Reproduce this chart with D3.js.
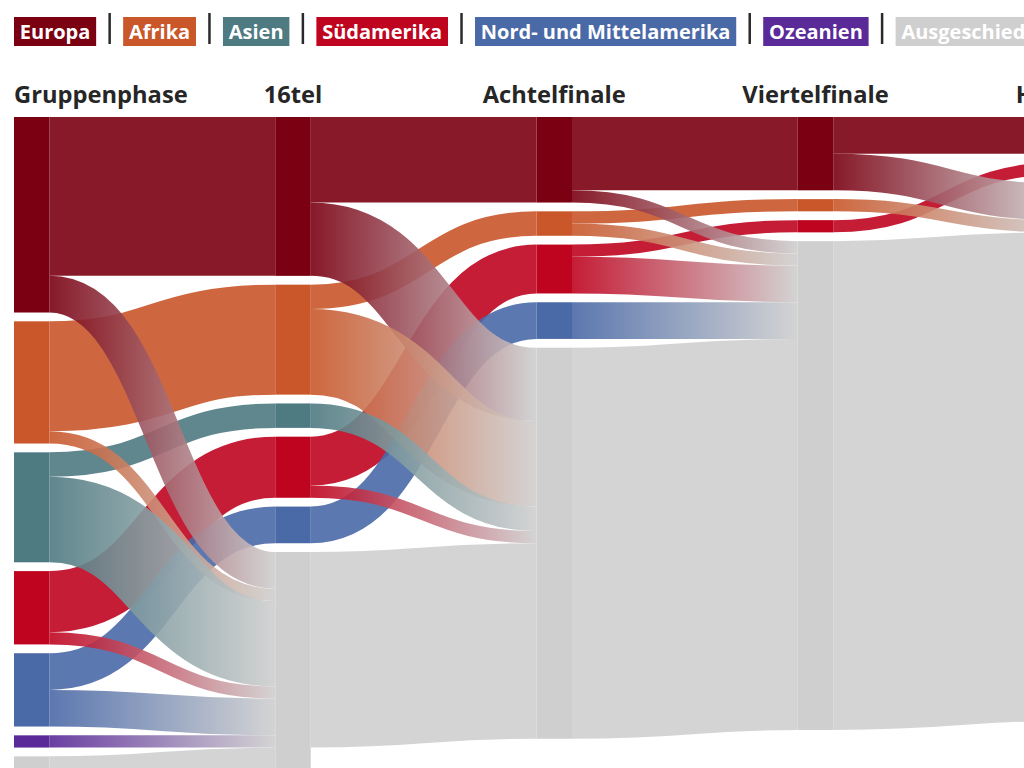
<!DOCTYPE html>
<html lang="de">
<head>
<meta charset="utf-8">
<script src="https://cdn.jsdelivr.net/npm/d3@7"></script>
<style>
  body { margin: 0; background: #fff; overflow: hidden; }
  svg { display: block; font-family: "Open Sans", sans-serif; }
</style>
</head>
<body>
<svg id="chart" width="1024" height="768"></svg>
<script>
const regions = ["Europa", "Afrika", "Asien", "Südamerika", "Nord- und Mittelamerika", "Ozeanien", "Ausgeschieden"]
const nodeColors = ["#7a0012", "#c9572a", "#4e7a81", "#bf0420", "#4a69a7", "#5a2a98", "#cfcfcf"]
const stages = ["Gruppenphase", "16tel", "Achtelfinale", "Viertelfinale", "Halbfinale"]

// teams per region in each stage, last entry = Ausgeschieden
const gruppenphase = [16, 10, 9, 6, 6, 1, 4]
const sechzehntel = [13, 9, 2, 5, 3, 0, 20]
const achtelfinale = [7, 2, 0, 4, 3, 0, 32]
const viertelfinale = [6, 1, 0, 1, 0, 0, 40]
const halbfinale = [3, 0, 0, 1, 0, 0, 44]
// grey flow carried on from one stage to the next
const greyCarry = [4, 16, 32, 40]

const stageCounts = [gruppenphase, sechzehntel, achtelfinale, viertelfinale, halbfinale]
const GREY = regions.length - 1

let svg = d3.select("#chart")

let topY = 117
let nodeW = 35.5
let nodePad = 8.8

const x = d3.scaleLinear()
    .domain([0, stages.length - 1])
    .range([14, 1059])

const h = d3.scaleLinear()
    .domain([0, 1])
    .range([0, 12.22])

// NODES
let nodes = []
let nodeAt = {}
stageCounts.forEach((counts, s) => {
    let y = topY
    counts.forEach((v, r) => {
        if (v <= 0) return
        let n = {s: s, r: r, value: v, x0: x(s), x1: x(s) + nodeW, y0: y, y1: y + h(v), sourceLinks: [], targetLinks: []}
        nodes.push(n)
        nodeAt[s + "-" + r] = n
        y = n.y1 + nodePad
    })
})

// LINKS
let links = []
let addLink = (a, b, v) => {
    if (v <= 0) return
    let l = {source: a, target: b, value: v, width: h(v)}
    a.sourceLinks.push(l)
    b.targetLinks.push(l)
    links.push(l)
}
for (let s = 0; s < stages.length - 1; s++) {
    for (let r = 0; r < GREY; r++) {
        let cur = stageCounts[s][r], nxt = stageCounts[s + 1][r]
        if (cur <= 0) continue
        addLink(nodeAt[s + "-" + r], nodeAt[(s + 1) + "-" + r], nxt)
        addLink(nodeAt[s + "-" + r], nodeAt[(s + 1) + "-" + GREY], cur - nxt)
    }
    if (nodeAt[s + "-" + GREY]) addLink(nodeAt[s + "-" + GREY], nodeAt[(s + 1) + "-" + GREY], greyCarry[s])
}

nodes.forEach(n => {
    let sy = n.y0
    n.sourceLinks.sort((a, b) => a.target.y0 - b.target.y0).forEach(l => { l.y0 = sy + l.width / 2; sy += l.width })
    let ty = n.y0
    n.targetLinks.sort((a, b) => a.source.y0 - b.source.y0).forEach(l => { l.y1 = ty + l.width / 2; ty += l.width })
})

// grey carry at the bottom, then same-region flows, then flows into Ausgeschieden on top
let linkKind = l => l.source.r == GREY ? 0 : (l.target.r == GREY ? 2 : 1)
links.sort((a, b) => linkKind(a) - linkKind(b))

let defs = svg.append("defs")
let linkPath = d3.linkHorizontal()

svg.append("g").attr("id", "links")
    .selectAll("path")
    .data(links)
    .join("path")
    .attr("d", l => linkPath({source: [l.source.x1, l.y0], target: [l.target.x0, l.y1]}))
    .attr("fill", "none")
    .attr("stroke-opacity", 0.9)
    .attr("stroke-width", l => l.width)
    .attr("stroke", (l, i) => {
        if (linkKind(l) != 2) return nodeColors[l.source.r]
        let grad = defs.append("linearGradient")
            .attr("id", "grad" + i)
            .attr("gradientUnits", "userSpaceOnUse")
            .attr("x1", l.source.x1).attr("x2", l.target.x0)
            .attr("y1", 0).attr("y2", 0)
        grad.append("stop").attr("offset", 0).attr("stop-color", nodeColors[l.source.r])
        grad.append("stop").attr("offset", 1).attr("stop-color", nodeColors[GREY])
        return "url(#grad" + i + ")"
    })

svg.append("g").attr("id", "nodes")
    .selectAll("rect")
    .data(nodes)
    .join("rect")
    .attr("x", n => n.x0)
    .attr("y", n => n.y0)
    .attr("width", nodeW)
    .attr("height", n => n.y1 - n.y0)
    .attr("fill", n => nodeColors[n.r])

// STAGE LABELS
svg.append("g").attr("id", "stage_labels")
    .selectAll("text")
    .data(stages)
    .join("text")
    .text(d => d)
    .attr("x", (d, i) => i == 0 ? x(0) : x(i) + nodeW / 2)
    .attr("y", 103)
    .style("text-anchor", (d, i) => i == 0 ? "start" : "middle")
    .style("font-weight", "bold")
    .style("font-size", "23.7px")
    .attr("fill", "#262626")

// LEGEND
let legend_g = svg.append("g").attr("id", "legend_g")
let lx = 14
let boxPad = 5.8
regions.forEach((name, i) => {
    let item = legend_g.append("g")
    let box = item.append("rect").attr("x", lx).attr("y", 17).attr("height", 29).attr("fill", nodeColors[i])
    let label = item.append("text")
        .text(name)
        .attr("x", lx + boxPad)
        .attr("y", 39)
        .style("font-weight", "bold")
        .style("font-size", "20px")
        .attr("fill", "#fff")
    let w = label.node().getComputedTextLength() + 2 * boxPad
    box.attr("width", w)
    lx += w + 13.5
    if (i < regions.length - 1) {
        legend_g.append("line")
            .attr("x1", lx).attr("x2", lx)
            .attr("y1", 13).attr("y2", 44)
            .attr("stroke", "#2a2a2a")
            .attr("stroke-width", 2.5)
        lx += 13.5
    }
})
</script>
</body>
</html>
